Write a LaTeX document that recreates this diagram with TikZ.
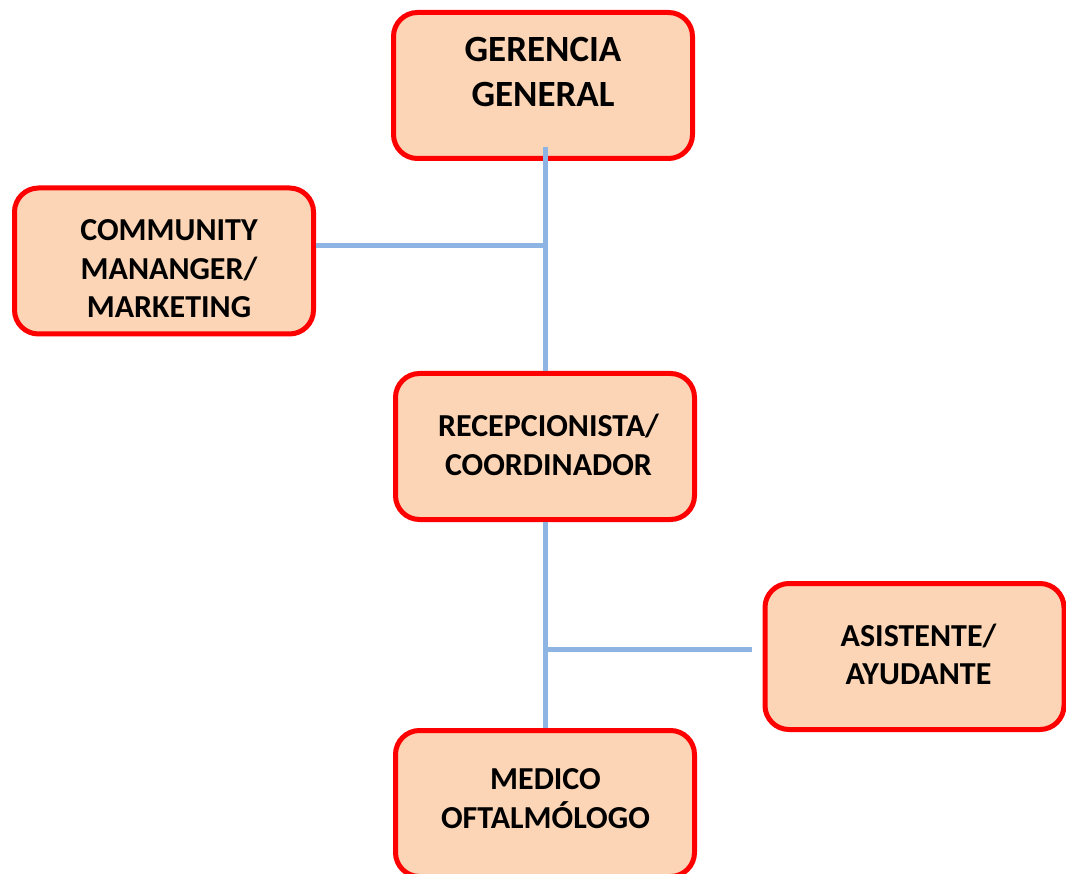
\documentclass[tikz,border=0pt]{standalone}
\usepackage{fontspec}
\setmainfont{Carlito}
\definecolor{boxfill}{RGB}{251,213,181}
\definecolor{boxline}{RGB}{255,0,0}
\definecolor{linkblue}{RGB}{141,180,226}
\tikzset{
  orgbox/.style={draw=boxline, fill=boxfill, line width=5pt, rounded corners=24pt,
    minimum width=299pt, minimum height=146pt, inner sep=0pt},
  orgtext/.style={align=center, inner sep=0pt, font=\bfseries\fontsize{32}{38.5}\selectfont},
  toptext/.style={align=center, inner sep=0pt, font=\bfseries\fontsize{37}{45}\selectfont},
  link/.style={draw=linkblue, line width=5pt}
}
\begin{document}
\begin{tikzpicture}[x=1pt,y=-1pt]
  \useasboundingbox (0,0) rectangle (1066,874);
  \clip (0,0) rectangle (1066,874);

  % boxes
  \node[orgbox] (ger) at (543,85.5) {};
  \node[orgbox] (com) at (164,261) {};
  \node[orgbox] (rec) at (545,446.5) {};
  \node[orgbox] (asi) at (914.5,656.5) {};
  \node[orgbox] (med) at (545,803.5) {};

  % connectors
  \coordinate (t1) at ([yshift=14pt]ger.south -| rec.north);
  \coordinate (j1) at ([yshift=15pt]com.east -| rec.north);
  \coordinate (j2) at ([yshift=7.5pt]asi.west -| rec.south);
  \draw[link] (t1) -- (rec.north);
  \draw[link] ([yshift=15pt]com.east) -- (j1);
  \draw[link] (rec.south) -- (med.north);
  \draw[link] (j2) -- ([xshift=-11pt,yshift=7.5pt]asi.west);

  % labels
  \node[toptext] at ([yshift=13.5pt]ger.center) {GERENCIA\\GENERAL};
  \node[orgtext] at ([xshift=5pt,yshift=-8pt]com.center) {COMMUNITY\\MANANGER/\\MARKETING};
  \node[orgtext] at ([xshift=3.5pt,yshift=1.5pt]rec.center) {RECEPCIONISTA/\\COORDINADOR};
  \node[orgtext] at ([xshift=4pt,yshift=2pt]asi.center) {ASISTENTE/\\AYUDANTE};
  \node[orgtext] at ([xshift=0.5pt,yshift=5pt]med.center) {MEDICO\\OFTALMÓLOGO};
\end{tikzpicture}
\end{document}
